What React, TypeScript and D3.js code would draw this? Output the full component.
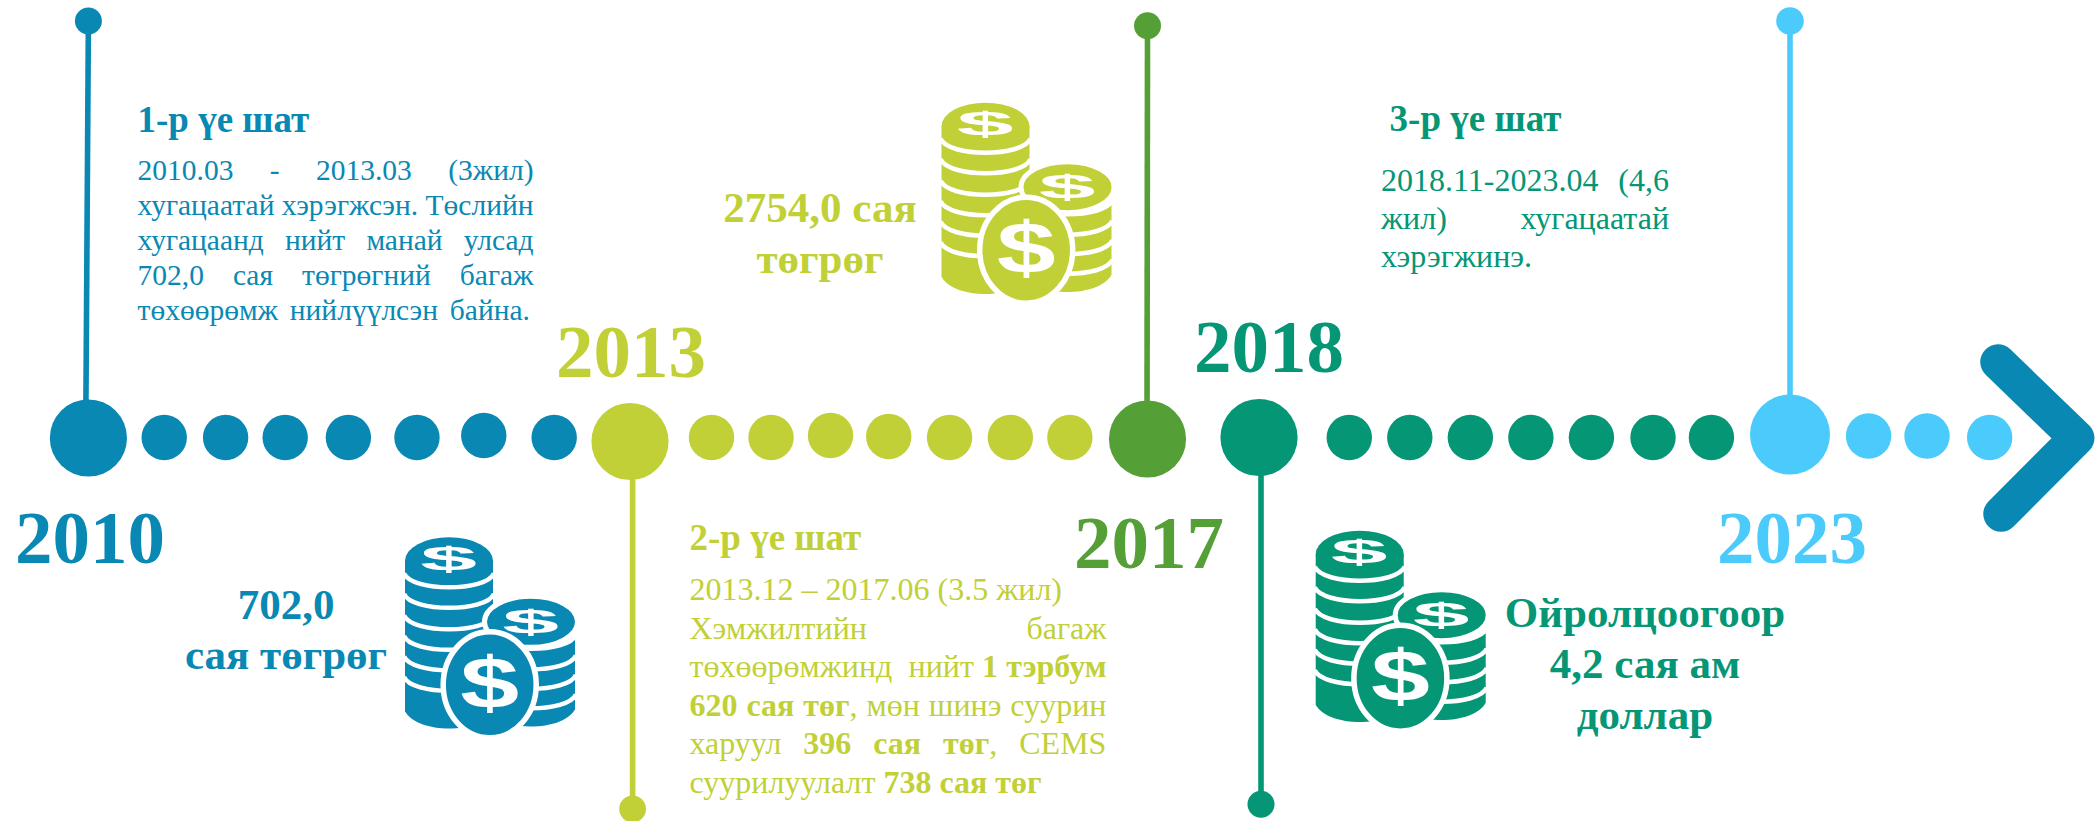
import React, { useEffect, useRef } from "react";
import * as d3 from "d3";

// milestones on the timeline
const milestoneYears = [2010, 2013, 2017, 2018, 2023];
const milestoneColors = ["#0a88b4", "#c1d037", "#559f37", "#049675", "#4acbfb"];

const blueDots = [2010.42, 2010.76, 2011.09, 2011.44, 2011.82, 2012.19, 2012.58];
const yellowDots = [2013.63, 2014.09, 2014.55, 2015.0, 2015.47, 2015.94, 2016.4];
const tealDots = [2018.85, 2019.42, 2019.99, 2020.56, 2021.13, 2021.71, 2022.26];
const skyDots = [2023.74, 2024.29, 2024.88];

const phase1Title = "1-р үе шат";
const phase2Title = "2-р үе шат";
const phase3Title = "3-р үе шат";

type Seg = { t: string; b?: boolean };
const phase1Lines: Seg[][] = [
  [{ t: "2010.03 - 2013.03 (3жил)" }],
  [{ t: "хугацаатай хэрэгжсэн. Төслийн" }],
  [{ t: "хугацаанд нийт манай улсад" }],
  [{ t: "702,0 сая төгрөгний багаж" }],
  [{ t: "төхөөрөмж нийлүүлсэн байна." }],
];
const phase2Lines: Seg[][] = [
  [{ t: "2013.12 – 2017.06 (3.5 жил)" }],
  [{ t: "Хэмжилтийн багаж" }],
  [{ t: "төхөөрөмжинд  нийт " }, { t: "1 тэрбум", b: true }],
  [{ t: "620 сая төг", b: true }, { t: ", мөн шинэ суурин" }],
  [{ t: "харуул " }, { t: "396 сая төг", b: true }, { t: ", CEMS" }],
  [{ t: "суурилуулалт " }, { t: "738 сая төг", b: true }],
];
const phase3Lines: Seg[][] = [
  [{ t: "2018.11-2023.04 (4,6" }],
  [{ t: "жил) хугацаатай" }],
  [{ t: "хэрэгжинэ." }],
];

const amount1Lines = ["702,0", "сая төгрөг"];
const amount2Lines = ["2754,0 сая", "төгрөг"];
const amount3Lines = ["Ойролцоогоор", "4,2 сая ам", "доллар"];

const WIDTH = 2096;
const HEIGHT = 821;
const FONT = "'Liberation Serif', 'Times New Roman', serif";

function drawCoins(root: any, color: string, x: number, y: number) {
  const g = root.append("g").attr("transform", `translate(${x},${y})`);

  const stack = (x0: number, x1: number, top: number, sideEnd: number, bottom: number, arcs: number[]) => {
    const p = d3.path();
    p.moveTo(x0, top);
    p.lineTo(x0, sideEnd);
    p.bezierCurveTo(x0 + 12, bottom + 6, x1 - 12, bottom + 6, x1, sideEnd);
    p.lineTo(x1, top);
    p.closePath();
    g.append("path").attr("d", p.toString()).attr("fill", color);
    arcs.forEach((b) => {
      const a = d3.path();
      a.moveTo(x0 - 1, b - 14);
      a.bezierCurveTo(x0 + 7, b + 4.7, x1 - 7, b + 4.7, x1 + 1, b - 14);
      g.append("path").attr("d", a.toString()).attr("fill", "none").attr("stroke", "#fff").attr("stroke-width", 4.5);
    });
  };

  const dollar = (cx: number, cy: number, size: number, sx: number, fill: string) => {
    g.append("text")
      .attr("transform", `translate(${cx},${cy}) scale(${sx},1)`)
      .attr("y", size * 0.33)
      .attr("text-anchor", "middle")
      .attr("font-family", "'Liberation Sans', sans-serif")
      .attr("font-weight", "bold")
      .attr("font-size", size)
      .attr("fill", fill)
      .text("$");
  };

  stack(0, 88, 24, 174, 191, [50, 70.5, 92, 112.5, 133, 153.5]);
  stack(82, 170, 85, 172, 189, [111.5, 132, 151.5, 171]);

  g.append("ellipse").attr("cx", 44).attr("cy", 23.5).attr("rx", 44).attr("ry", 23.5).attr("fill", color);
  g.append("ellipse").attr("cx", 126).attr("cy", 84.5).attr("rx", 46.5).attr("ry", 25.5)
    .attr("fill", color).attr("stroke", "#fff").attr("stroke-width", 5);
  g.append("ellipse").attr("cx", 84.7).attr("cy", 147.5).attr("rx", 46.5).attr("ry", 53)
    .attr("fill", color).attr("stroke", "#fff").attr("stroke-width", 5.5);

  dollar(43.5, 21, 34, 3, "#fff");
  dollar(125.5, 84.5, 34, 3, "#fff");
  dollar(84.7, 147, 72, 1.47, "#fff");
}

// right is a number per line or one for the whole block, lines marked false keep natural spacing
function drawBlock(root: any, lines: Seg[][], color: string, x: number, right: number, y0: number, dy: number, size: number, justified: (boolean | number)[]) {
  lines.forEach((segs, i) => {
    const text = root.append("text")
      .attr("x", x)
      .attr("y", y0 + i * dy)
      .attr("fill", color)
      .attr("font-family", FONT)
      .attr("font-size", size)
      .style("white-space", "pre");
    segs.forEach((s) => {
      text.append("tspan").attr("font-weight", s.b ? "bold" : "normal").text(s.t);
    });
    if (justified[i]) {
      const end = typeof justified[i] === "number" ? (justified[i] as number) : right;
      const node = text.node() as SVGTextElement;
      const natural = node.getComputedTextLength();
      const gaps = segs.map((s) => s.t).join("").trim().replace(/ +/g, " ").split(" ").length - 1;
      if (gaps > 0) text.attr("word-spacing", (end - x - natural) / gaps);
    }
  });
}

function drawCentered(root: any, lines: string[], color: string, cx: number, ys: number[], size: number) {
  root.selectAll(null)
    .data(lines)
    .enter()
    .append("text")
    .attr("x", cx)
    .attr("y", (_: string, i: number) => ys[i])
    .attr("text-anchor", "middle")
    .attr("fill", color)
    .attr("font-family", FONT)
    .attr("font-weight", "bold")
    .attr("font-size", size)
    .text((d: string) => d);
}

export default function App() {
  const ref = useRef<SVGSVGElement>(null);

  useEffect(() => {
    const svg = d3.select(ref.current);
    svg.selectAll("*").remove();

    // timeline axis is piecewise, the picture does not keep a constant year width
    const x = d3.scaleLinear().domain(milestoneYears).range([88.4, 630, 1147.5, 1259, 1790]);
    const rowY = 437.5;
    const bigDotY = [438, 441.5, 439, 437.5, 434.5];
    const lifted = new Map([[2012.19, 2], [2014.55, 2], [2015.0, 1], [2023.74, 1.5], [2024.29, 1.5]]);

    // stems first, so the dots sit on top of them
    const stems = [
      { year: 2010, x2: 85.7, end: 21, r: 13.5 },
      { year: 2013, x2: 632.6, end: 809, r: 13.4 },
      { year: 2017, x2: 1147, end: 25.7, r: 13.5 },
      { year: 2018, x2: 1261, end: 804.3, r: 13.5 },
      { year: 2023, x2: 1790, end: 21, r: 13.8 },
    ];
    stems.forEach((s, i) => {
      const top = s.end < 400;
      svg.append("line")
        .attr("x1", top ? x(s.year) : s.x2)
        .attr("y1", s.end)
        .attr("x2", s.x2)
        .attr("y2", bigDotY[i])
        .attr("stroke", milestoneColors[i])
        .attr("stroke-width", 5.6);
      svg.append("circle")
        .attr("cx", top ? x(s.year) : s.x2)
        .attr("cy", s.end)
        .attr("r", s.r)
        .attr("fill", milestoneColors[i]);
    });

    const smallDots = [
      { values: blueDots, color: milestoneColors[0] },
      { values: yellowDots, color: milestoneColors[1] },
      { values: tealDots, color: milestoneColors[3] },
      { values: skyDots, color: milestoneColors[4] },
    ];
    smallDots.forEach((s) => {
      svg.append("g")
        .selectAll("circle")
        .data(s.values)
        .enter()
        .append("circle")
        .attr("cx", (d) => x(d))
        .attr("cy", (d) => rowY - (lifted.get(d) || 0))
        .attr("r", 22.7)
        .attr("fill", s.color);
    });

    svg.append("g")
      .selectAll("circle")
      .data(milestoneYears)
      .enter()
      .append("circle")
      .attr("cx", (d) => x(d))
      .attr("cy", (_, i) => bigDotY[i])
      .attr("r", (_, i) => (i === 4 ? 40 : 38.6))
      .attr("fill", (_, i) => milestoneColors[i]);

    // arrow head at the end of the row
    const arrow = d3.line().curve(d3.curveLinear);
    svg.append("path")
      .attr("d", arrow([[1998, 362], [x(2025.7), 438], [2001, 514]]))
      .attr("fill", "none")
      .attr("stroke", milestoneColors[0])
      .attr("stroke-width", 35.5)
      .attr("stroke-linecap", "round")
      .attr("stroke-linejoin", "round");

    // year labels
    const yearPos = [[15, 563], [556, 377], [1074, 568], [1194, 372], [1717, 563]];
    milestoneYears.forEach((y, i) => {
      svg.append("text")
        .attr("x", yearPos[i][0])
        .attr("y", yearPos[i][1])
        .attr("fill", milestoneColors[i])
        .attr("font-family", FONT)
        .attr("font-weight", "bold")
        .attr("font-size", 75)
        .text(y);
    });

    // phase headings
    const headings = [
      { t: phase1Title, x: 137.5, y: 132, c: milestoneColors[0] },
      { t: phase2Title, x: 689.5, y: 550, c: milestoneColors[1] },
      { t: phase3Title, x: 1389.6, y: 131, c: milestoneColors[3] },
    ];
    headings.forEach((h) => {
      svg.append("text")
        .attr("x", h.x)
        .attr("y", h.y)
        .attr("fill", h.c)
        .attr("font-family", FONT)
        .attr("font-weight", "bold")
        .attr("font-size", 37)
        .text(h.t);
    });

    drawBlock(svg, phase1Lines, milestoneColors[0], 137.5, 533.5, 180, 35, 29.5, [true, true, true, true, 530]);
    drawBlock(svg, phase2Lines, milestoneColors[1], 689.5, 1106.4, 600, 38.5, 32, [false, true, true, true, true, false]);
    drawBlock(svg, phase3Lines, milestoneColors[3], 1381, 1669, 190.7, 38, 32, [true, true, false]);

    drawCentered(svg, amount1Lines, milestoneColors[0], 286, [619, 669], 43);
    drawCentered(svg, amount2Lines, milestoneColors[1], 820, [221.7, 273], 43);
    drawCentered(svg, amount3Lines, milestoneColors[3], 1645, [627, 678, 729], 43);

    drawCoins(svg, milestoneColors[0], 405, 537.3);
    drawCoins(svg, milestoneColors[1], 941.5, 102.7);
    drawCoins(svg, milestoneColors[3], 1315.7, 530.7);
  }, []);

  return (
    <svg
      ref={ref}
      width={WIDTH}
      height={HEIGHT}
      viewBox={`0 0 ${WIDTH} ${HEIGHT}`}
      style={{ position: "absolute", left: 0, top: 0, display: "block", background: "#fff" }}
    />
  );
}
